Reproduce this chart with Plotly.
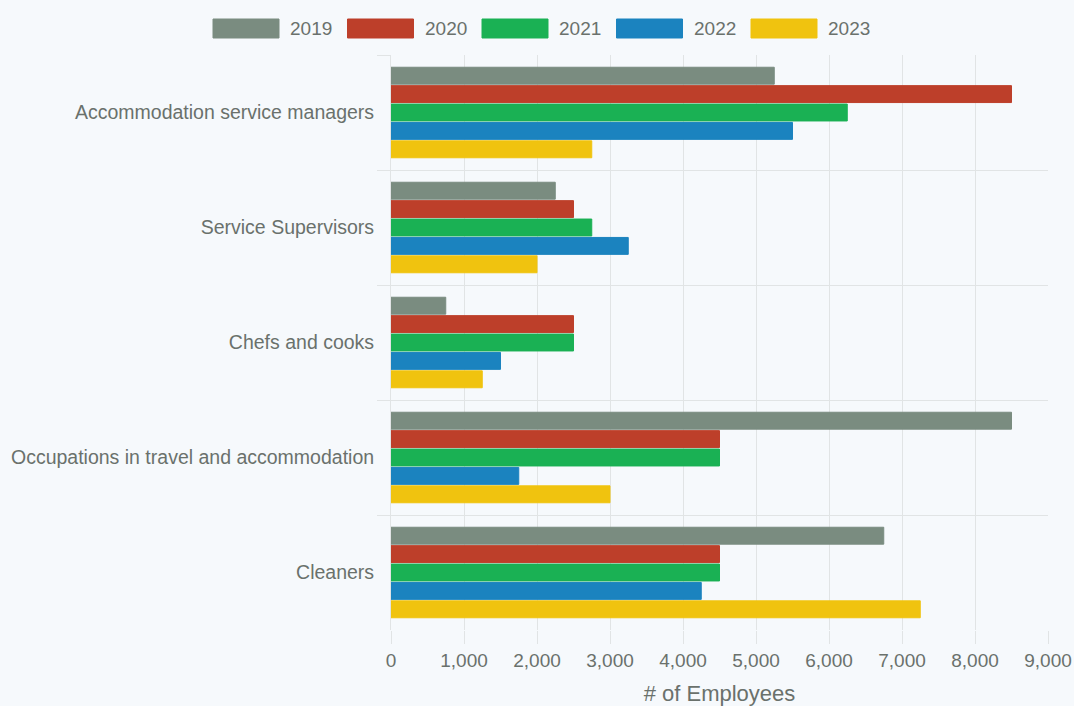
import plotly.graph_objects as go

categories = [
    "Accommodation service managers",
    "Service Supervisors",
    "Chefs and cooks",
    "Occupations in travel and accommodation",
    "Cleaners",
]
years = ["2019", "2020", "2021", "2022", "2023"]
values_2019 = [5250, 2250, 750, 8500, 6750]
values_2020 = [8500, 2500, 2500, 4500, 4500]
values_2021 = [6250, 2750, 2500, 4500, 4500]
values_2022 = [5500, 3250, 1500, 1750, 4250]
values_2023 = [2750, 2000, 1250, 3000, 7250]
series = [values_2019, values_2020, values_2021, values_2022, values_2023]
colors = ["#7a8c80", "#bd3f2a", "#1ab154", "#1b83bf", "#f0c30f"]
x_ticks = [0, 1000, 2000, 3000, 4000, 5000, 6000, 7000, 8000, 9000]

TEXT = "#6a716c"
GRID = "#e1e4e5"
BG = "#f6f9fc"
FONT = "Liberation Sans, Arial, Helvetica, sans-serif"

W, H = 1074, 706
ML, MR, MT, MB = 391, 26, 55, 76
PW, PH = W - ML - MR, H - MT - MB

fig = go.Figure()
for name, vals, col in zip(years, series, colors):
    fig.add_trace(go.Bar(
        name=name, y=categories, x=vals, orientation="h",
        marker=dict(color=col, line=dict(color=col, width=1)),
        showlegend=False,
    ))

# manual legend (wide swatches like the reference)
shapes = []
annotations = []
for i, (name, col) in enumerate(zip(years, colors)):
    px0 = 213 + i * 134.5
    px1 = px0 + 66
    shapes.append(dict(
        type="rect", xref="paper", yref="paper",
        x0=(px0 - ML) / PW, x1=(px1 - ML) / PW,
        y0=(H - MB - 38) / PH, y1=(H - MB - 19) / PH,
        fillcolor=col, line=dict(color=col, width=1),
    ))
    annotations.append(dict(
        xref="paper", yref="paper", x=(px1 + 9 - ML) / PW, y=(H - MB - 28) / PH,
        text=name, showarrow=False, xanchor="left", yanchor="middle",
        font=dict(family=FONT, size=19, color=TEXT),
    ))

fig.update_layout(
    width=W, height=H,
    margin=dict(l=ML, r=MR, t=MT, b=MB, pad=0, autoexpand=False),
    paper_bgcolor=BG, plot_bgcolor=BG,
    barmode="group", bargap=0.2, bargroupgap=0.08,
    font=dict(family=FONT, color=TEXT, size=19),
    shapes=shapes, annotations=annotations,
    xaxis=dict(
        range=[0, 9000], tickvals=x_ticks, tickformat=",",
        showgrid=True, gridcolor=GRID, gridwidth=1,
        zeroline=False, ticks="outside", ticklen=13, tickcolor=GRID,
        tickfont=dict(size=19, color=TEXT),
        showline=False, automargin=False,
        title=dict(text="# of Employees", font=dict(size=22, color=TEXT), standoff=18),
    ),
    yaxis=dict(
        autorange="reversed", tickson="boundaries",
        showgrid=True, gridcolor=GRID, gridwidth=1,
        ticks="outside", ticklen=13, tickcolor=GRID,
        tickfont=dict(size=19.5, color=TEXT),
        showline=True, linecolor=GRID, linewidth=1,
        ticklabelstandoff=12, automargin=False,
    ),
)

fig.write_html(
    "out.html",
    config={"displayModeBar": False},
    post_script="document.body.style.margin='0';document.body.style.background='%s';" % BG,
)
